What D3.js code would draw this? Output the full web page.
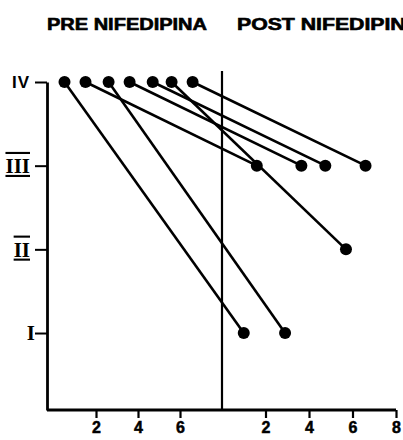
<!DOCTYPE html>
<html>
<head>
<meta charset="utf-8">
<script src="https://cdn.jsdelivr.net/npm/d3@7"></script>
<style>
  body { margin: 0; background: #fff; }
  svg { display: block; }
  text { fill: #000; }
</style>
</head>
<body>
<div id="chart"></div>
<script>
(function() {
  'use strict';

// functional class (I-IV) before and after nifedipine, one row per patient
const preDose = [0.5, 1.5, 2.6, 3.6, 4.7, 5.6, 6.6];
const preClass = [4, 4, 4, 4, 4, 4, 4];
const postDose = [1.0, 1.6, 2.9, 3.65, 4.75, 5.7, 6.6];
const postClass = [1, 3, 1, 3, 3, 2, 3];

const classTicks = [1, 2, 3, 4];
const classLabels = ['I', 'II', 'III', 'IV'];
const preTicks = [2, 4, 6];
const postTicks = [2, 4, 6, 8];
const titles = ['PRE NIFEDIPINA', 'POST NIFEDIPINA'];

const W = 403;
const H = 440;
const AXIS_X = 47;
const BASE_Y = 410;

const svg = d3.select('#chart')
  .append('svg')
    .attr('width', W)
    .attr('height', H);

const xPre = d3.scaleLinear().domain([0, 8]).range([54, 222]);
const xPost = d3.scaleLinear().domain([0, 8]).range([222, 396]);
const y = d3.scaleLinear().domain([0.08, 4]).range([BASE_Y, 82]);

// titles
svg.append('text')
  .attr('x', 47).attr('y', 30)
  .attr('textLength', 160).attr('lengthAdjust', 'spacingAndGlyphs')
  .style('font', 'bold 16px "Liberation Sans", Arial, sans-serif')
  .style('stroke', '#000').style('stroke-width', 0.6)
  .text(titles[0]);
svg.append('text')
  .attr('x', 237).attr('y', 30)
  .attr('textLength', 184).attr('lengthAdjust', 'spacingAndGlyphs')
  .style('font', 'bold 16px "Liberation Sans", Arial, sans-serif')
  .style('stroke', '#000').style('stroke-width', 0.6)
  .text(titles[1]);

// y axis
const yAxis = d3.axisLeft(y)
  .tickValues(classTicks)
  .tickSize(12)
  .tickSizeOuter(0)
  .tickFormat((d) => classLabels[d - 1]);

const yg = svg.append('g')
  .attr('transform', `translate(${AXIS_X}, 0)`)
  .call(yAxis)
  .attr('font-size', null)
  .attr('font-family', null);
yg.select('.domain').attr('stroke-width', 2.8);
yg.selectAll('.tick line').attr('stroke-width', 2);
yg.selectAll('.tick text')
  .attr('x', (d) => d === 1 ? -12 : -17)
  .style('font-weight', 'bold')
  .style('font-family', (d) => d === 4 ? '"Liberation Sans", Arial, sans-serif' : '"Liberation Serif", serif')
  .style('font-size', (d) => d === 4 ? '17px' : '21px')
  .style('letter-spacing', (d) => d === 4 ? '1px' : '0px')
  .style('text-decoration', (d) => d === 2 || d === 3 ? 'underline overline' : 'none');

// bottom axis line
svg.append('line')
  .attr('x1', AXIS_X).attr('x2', xPost(8))
  .attr('y1', BASE_Y).attr('y2', BASE_Y)
  .attr('stroke', '#000').attr('stroke-width', 2.8);

function bottomAxis(scale, ticks) {
  const g = svg.append('g')
    .attr('transform', `translate(0, ${BASE_Y})`)
    .call(d3.axisBottom(scale).tickValues(ticks).tickSize(8).tickSizeOuter(0))
    .attr('font-size', null)
    .attr('font-family', null);
  g.select('.domain').remove();
  g.selectAll('.tick line').attr('stroke-width', 2.2);
  g.selectAll('.tick text')
    .attr('y', 12)
    .style('font-family', '"Liberation Sans", Arial, sans-serif')
    .style('font-weight', 'bold')
    .style('font-size', '16px')
    .style('stroke', '#000').style('stroke-width', 0.5);
}
bottomAxis(xPre, preTicks);
bottomAxis(xPost, postTicks);

// divider between pre and post
svg.append('line')
  .attr('x1', xPre(8)).attr('x2', xPre(8))
  .attr('y1', 71).attr('y2', BASE_Y)
  .attr('stroke', '#000').attr('stroke-width', 2.2);

const pairs = preDose.map((d, i) => ({
  x0: xPre(d), y0: y(preClass[i]),
  x1: xPost(postDose[i]), y1: y(postClass[i])
}));

svg.selectAll('.pair')
  .data(pairs)
  .enter()
  .append('line')
    .attr('class', 'pair')
    .attr('x1', (d) => d.x0).attr('y1', (d) => d.y0)
    .attr('x2', (d) => d.x1).attr('y2', (d) => d.y1)
    .attr('stroke', '#000').attr('stroke-width', 2.6);

svg.selectAll('.pre')
  .data(pairs)
  .enter()
  .append('circle')
    .attr('class', 'pre')
    .attr('cx', (d) => d.x0).attr('cy', (d) => d.y0)
    .attr('r', 6);

svg.selectAll('.post')
  .data(pairs)
  .enter()
  .append('circle')
    .attr('class', 'post')
    .attr('cx', (d) => d.x1).attr('cy', (d) => d.y1)
    .attr('r', 6);

})();
</script>
</body>
</html>
